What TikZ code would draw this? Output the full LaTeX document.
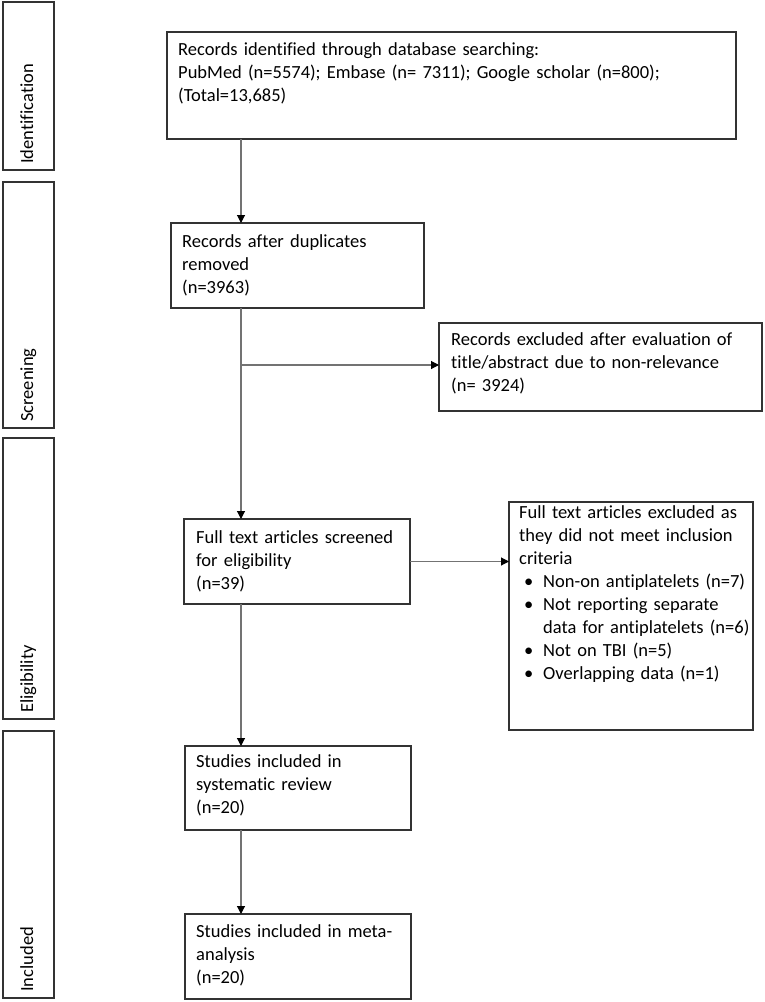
\documentclass[tikz,border=0pt]{standalone}
\usepackage{fontspec}
\setmainfont{Carlito}[Ligatures={NoCommon}]
\usetikzlibrary{arrows.meta}
\begin{document}
\begin{tikzpicture}[x=1pt,y=-1pt,
  box/.style={draw=black!80,line width=1.3pt,rectangle,anchor=north west,inner sep=0pt,outer sep=0pt},
  txt/.style={anchor=north west,inner sep=0pt,text width=600pt,align=left,
    font=\fontsize{18.5}{23}\selectfont,execute at begin node=\strut},
  side/.style={anchor=base west,rotate=90,inner sep=0pt,font=\fontsize{18.5}{23}\selectfont},
  conn/.style={draw=black!55,line width=1.1pt,-{Triangle[width=8pt,length=8pt,color=black]}},
  plain/.style={draw=black!55,line width=1.1pt}]
\useasboundingbox (0,0) rectangle (765,1002);
% phase boxes
\node[box,minimum width=51pt,minimum height=168pt] (s1) at (3,2) {};
\node[box,minimum width=51pt,minimum height=246pt] (s2) at (3,182) {};
\node[box,minimum width=51pt,minimum height=281pt] (s3) at (3,438) {};
\node[box,minimum width=51pt,minimum height=267pt] (s4) at (3,731) {};
\node[side] (l1) at (33,164) {Identification};
\node[side] (l2) at (33,422) {Screening};
\node[side] (l3) at (33,713) {Eligibility};
\node[side] (l4) at (33,992) {Included};
% flow boxes
\node[box,minimum width=569pt,minimum height=107pt] (b1) at (167,32) {};
\node[box,minimum width=253pt,minimum height=85pt] (b2) at (171,223) {};
\node[box,minimum width=323pt,minimum height=88pt] (ex1) at (439,323) {};
\node[box,minimum width=226pt,minimum height=85pt] (b3) at (184,519) {};
\node[box,minimum width=244pt,minimum height=228pt] (ex2) at (509,502) {};
\node[box,minimum width=226pt,minimum height=84pt] (b4) at (185,746) {};
\node[box,minimum width=226pt,minimum height=85pt] (b5) at (185,914) {};
% texts
\node[txt] (t1) at (178,38.9) {Records identified through database searching:\\PubMed (n=5574); Embase (n= 7311); Google scholar (n=800);\\(Total=13,685)};
\node[txt] (t2) at (182,230.9) {Records after duplicates\\removed\\(n=3963)};
\node[txt] (tx1) at (451,328.9) {Records excluded after evaluation of\\title/abstract due to non-relevance\\(n= 3924)};
\node[txt] (t3) at (196,526.9) {Full text articles screened\\for eligibility\\(n=39)};
\node[txt] (tx2) at (519,502.5) {Full text articles excluded as\\they did not meet inclusion\\criteria\\
\makebox[24pt][l]{\hspace{5pt}\textbullet}Non-on antiplatelets (n=7)\\
\makebox[24pt][l]{\hspace{5pt}\textbullet}Not reporting separate\\
\hspace*{24pt}data for antiplatelets (n=6)\\
\makebox[24pt][l]{\hspace{5pt}\textbullet}Not on TBI (n=5)\\
\makebox[24pt][l]{\hspace{5pt}\textbullet}Overlapping data (n=1)};
\node[txt] (t4) at (196,750.9) {Studies included in\\systematic review\\(n=20)};
\node[txt] (t5) at (196,920.9) {Studies included in meta-\\analysis\\(n=20)};
% connectors
\coordinate (col) at (241,0);
\coordinate (j1) at (241,365);
\draw[conn] (b1.south -| col) -- (b2.north -| col);
\draw[plain] (b2.south -| col) -- (j1);
\draw[conn] (j1) -- (b3.north -| col);
\draw[conn] (j1) -- (j1 -| ex1.west);
\draw[conn] (b3.south -| col) -- (b4.north -| col);
\draw[conn] (b4.south -| col) -- (b5.north -| col);
\draw[conn] (b3.east) -- (b3.east -| ex2.west);
\end{tikzpicture}
\end{document}
